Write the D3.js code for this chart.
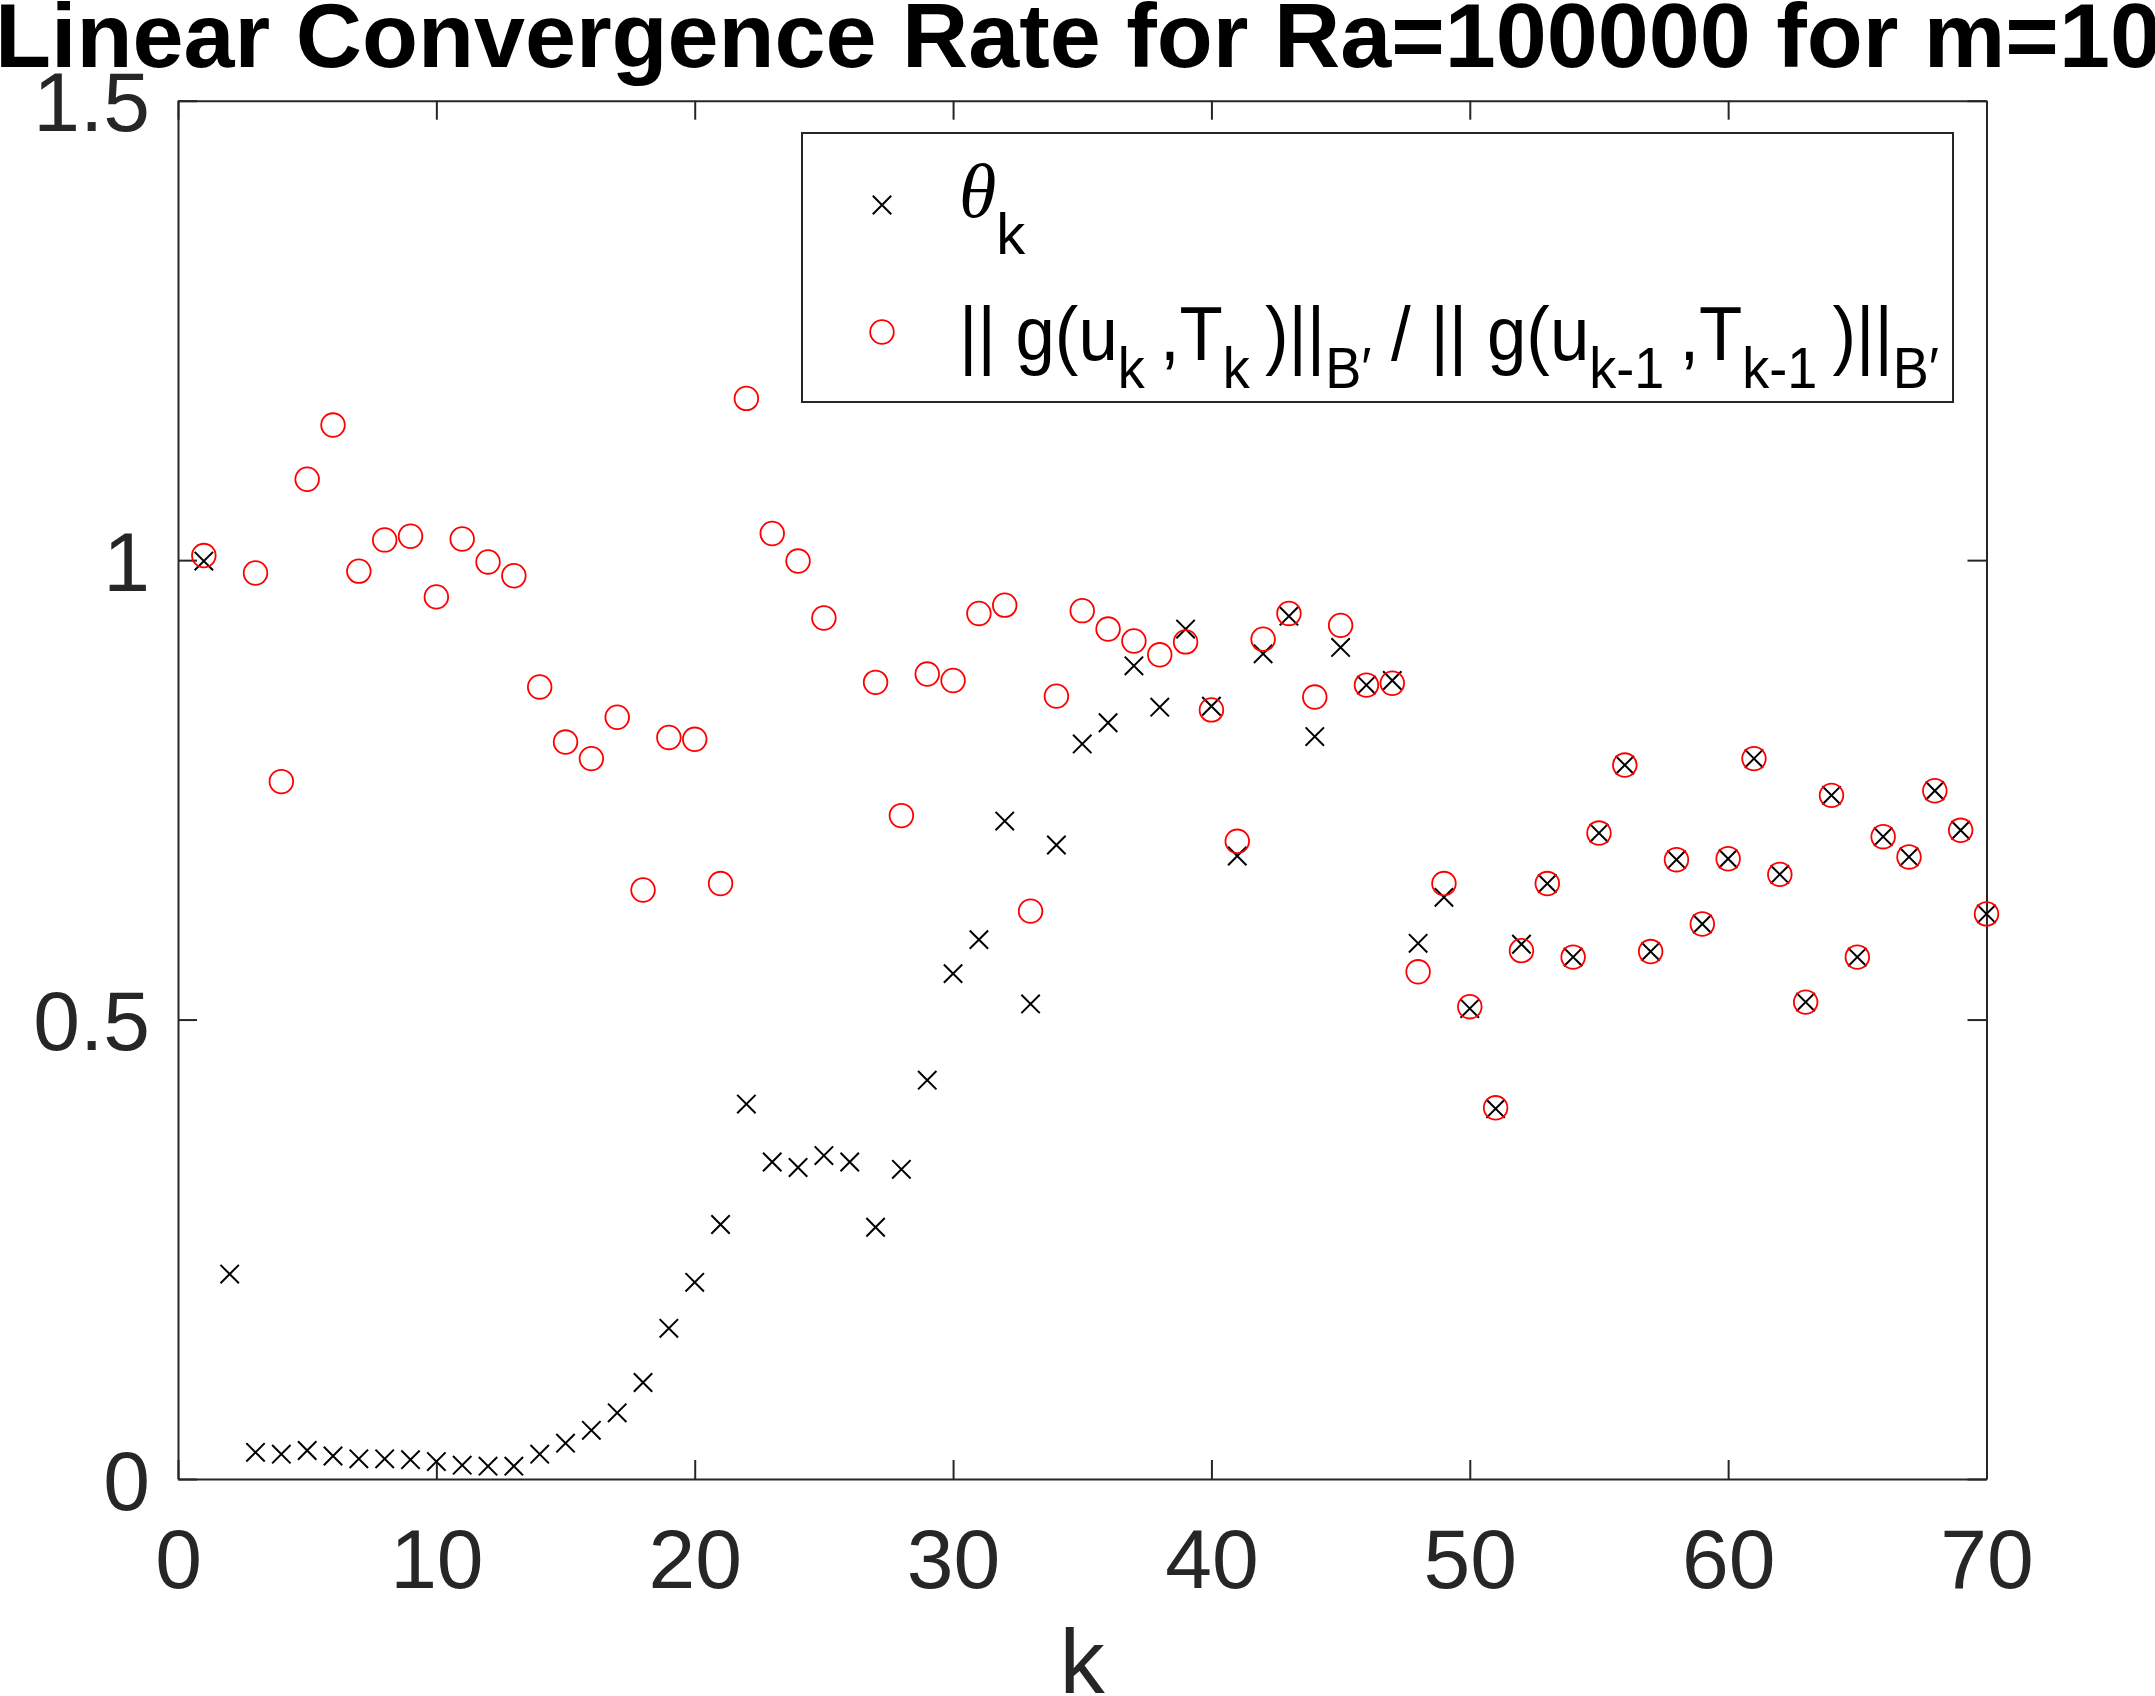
<!DOCTYPE html>
<html>
<head>
<meta charset="utf-8">
<script src="https://cdn.jsdelivr.net/npm/d3@7"></script>
<style>
  html, body { margin: 0; padding: 0; background: #ffffff; }
  svg { display: block; }
</style>
</head>
<body>
<svg id="chart" width="2155" height="1696"></svg>
<script>
// ---------------- data ----------------
const kValues = [1,2,3,4,5,6,7,8,9,10,11,12,13,14,15,16,17,18,19,20,
  21,22,23,24,25,26,27,28,29,30,31,32,33,34,35,36,37,38,39,40,
  41,42,43,44,45,46,47,48,49,50,51,52,53,54,55,56,57,58,59,60,
  61,62,63,64,65,66,67,68,69,70];

// theta_k (black crosses)
const thetaK = [0.999,0.223,0.029,0.027,0.031,0.025,0.022,0.022,0.021,0.019,
  0.015,0.014,0.014,0.027,0.039,0.053,0.072,0.105,0.164,0.214,
  0.277,0.408,0.345,0.339,0.352,0.345,0.274,0.337,0.434,0.550,
  0.587,0.716,0.517,0.690,0.800,0.823,0.885,0.840,0.925,0.841,
  0.678,0.898,0.939,0.808,0.905,0.864,0.869,0.583,0.633,0.512,
  0.403,0.582,0.648,0.568,0.703,0.777,0.574,0.674,0.604,0.675,
  0.784,0.658,0.519,0.744,0.568,0.699,0.677,0.749,0.706,0.615];

// ||g(u_k,T_k)|| / ||g(u_{k-1},T_{k-1})|| (red circles); null = not visible
const normRatio = [1.005,null,0.986,0.759,1.088,1.147,0.988,1.022,1.026,0.960,
  1.023,0.998,0.983,0.862,0.802,0.784,0.829,0.641,0.807,0.805,
  0.648,1.176,1.029,0.999,0.937,null,0.867,0.722,0.876,0.869,
  0.942,0.951,0.618,0.852,0.945,0.925,0.912,0.897,0.911,0.837,
  0.694,0.914,0.942,0.851,0.929,0.864,0.866,0.552,0.648,0.514,
  0.404,0.575,0.648,0.568,0.703,0.777,0.574,0.674,0.604,0.675,
  0.784,0.658,0.519,0.744,0.568,0.699,0.677,0.749,0.706,0.615];

const xTicks = [0,10,20,30,40,50,60,70];
const yTicks = [0,0.5,1,1.5];
const yTickLabels = ["0","0.5","1","1.5"];
const titleText = "Linear Convergence Rate for Ra=100000 for m=10";
const xLabelText = "k";

// ---------------- layout ----------------
const W = 2155, H = 1696;
const plot = {left: 178, right: 1986.5, top: 100.7, bottom: 1479};
const axisColor = "#262626";
const fontSans = "'Liberation Sans', Arial, Helvetica, sans-serif";
const tickFont = 84;
const tickLen = 19;

const svg = d3.select("#chart");
svg.append("rect").attr("width", W).attr("height", H).attr("fill", "#fff");

const x = d3.scaleLinear().domain([0, 70]).range([plot.left, plot.right]);
const y = d3.scaleLinear().domain([0, 1.5]).range([plot.bottom, plot.top]);

// ---------------- axes ----------------
function styleAxis(g, showText) {
  g.selectAll(".domain").attr("stroke", axisColor).attr("stroke-width", 2);
  g.selectAll(".tick line").attr("stroke", axisColor).attr("stroke-width", 2);
  g.selectAll(".tick text")
    .attr("fill", axisColor)
    .style("font-family", fontSans)
    .style("font-size", tickFont + "px");
  if (!showText) g.selectAll(".tick text").remove();
}

const gBottom = svg.append("g")
  .attr("transform", `translate(0,${plot.bottom})`)
  .call(d3.axisBottom(x).tickValues(xTicks).tickFormat(d => String(d))
    .tickSizeInner(-tickLen).tickSizeOuter(0).tickPadding(49.5));
styleAxis(gBottom, true);

const gTop = svg.append("g")
  .attr("transform", `translate(0,${plot.top})`)
  .call(d3.axisTop(x).tickValues(xTicks).tickFormat("")
    .tickSizeInner(-tickLen).tickSizeOuter(0));
styleAxis(gTop, false);

const gLeft = svg.append("g")
  .attr("transform", `translate(${plot.left},0)`)
  .call(d3.axisLeft(y).tickValues(yTicks).tickFormat((d, i) => yTickLabels[i])
    .tickSizeInner(-tickLen).tickSizeOuter(0).tickPadding(28));
styleAxis(gLeft, true);
gLeft.selectAll(".tick text").attr("dy", "0.36em");

const gRight = svg.append("g")
  .attr("transform", `translate(${plot.right},0)`)
  .call(d3.axisRight(y).tickValues(yTicks).tickFormat("")
    .tickSizeInner(-tickLen).tickSizeOuter(0));
styleAxis(gRight, false);

// ---------------- data marks ----------------
const marks = svg.append("g");
const crossHalf = 9.2;
const crossPath = `M${-crossHalf},${-crossHalf}L${crossHalf},${crossHalf}M${-crossHalf},${crossHalf}L${crossHalf},${-crossHalf}`;

const thetaData = kValues.map((k, i) => ({k, v: thetaK[i]})).filter(d => d.v != null);
const ratioData = kValues.map((k, i) => ({k, v: normRatio[i]})).filter(d => d.v != null);

marks.selectAll("path.cross").data(thetaData).join("path")
  .attr("class", "cross")
  .attr("transform", d => `translate(${x(d.k)},${y(d.v)})`)
  .attr("d", crossPath)
  .attr("stroke", "#000").attr("stroke-width", 2).attr("fill", "none");

marks.selectAll("circle.ratio").data(ratioData).join("circle")
  .attr("class", "ratio")
  .attr("cx", d => x(d.k)).attr("cy", d => y(d.v))
  .attr("r", 11.8)
  .attr("stroke", "#ff0000").attr("stroke-width", 1.8).attr("fill", "none");

// ---------------- title & labels ----------------
svg.append("text")
  .attr("x", 1078).attr("y", 67)
  .attr("text-anchor", "middle")
  .style("font-family", fontSans).style("font-weight", "bold").style("font-size", "91.7px")
  .attr("fill", "#000")
  .text(titleText);

svg.append("text")
  .attr("x", (plot.left + plot.right) / 2).attr("y", 1693)
  .attr("text-anchor", "middle")
  .style("font-family", fontSans).style("font-size", "90px")
  .attr("fill", axisColor)
  .text(xLabelText);

// ---------------- legend ----------------
const leg = {x: 802, y: 133, w: 1151, h: 269};
const lg = svg.append("g");
lg.append("rect").attr("x", leg.x).attr("y", leg.y).attr("width", leg.w).attr("height", leg.h)
  .attr("fill", "#fff").attr("stroke", axisColor).attr("stroke-width", 2);

const legMarkX = 882;
lg.append("path").attr("transform", `translate(${legMarkX},205)`).attr("d", crossPath)
  .attr("stroke", "#000").attr("stroke-width", 2).attr("fill", "none");
lg.append("circle").attr("cx", legMarkX).attr("cy", 332).attr("r", 11.8)
  .attr("stroke", "#ff0000").attr("stroke-width", 1.8).attr("fill", "none");

const legMain = 76, legSub = 58;
const t1 = lg.append("text").attr("x", 959).attr("y", 217)
  .style("font-family", fontSans).style("font-size", legMain + "px").attr("fill", "#000");
t1.append("tspan").text("θ").style("font-family", "'Liberation Serif', 'Times New Roman', serif").style("font-style", "italic");
t1.append("tspan").text("k").attr("dy", 37).style("font-size", legSub + "px");

const segs = [
  {t: "|| g(u", sub: false},
  {t: "k ", sub: true},
  {t: ",T", sub: false},
  {t: "k ", sub: true},
  {t: ")||", sub: false},
  {t: "B\u2032", sub: true},
  {t: " / || g(u", sub: false},
  {t: "k-1 ", sub: true},
  {t: ",T", sub: false},
  {t: "k-1 ", sub: true},
  {t: ")||", sub: false},
  {t: "B\u2032", sub: true}
];
const t2 = lg.append("text").attr("x", 959).attr("y", 360)
  .style("font-family", fontSans).style("font-size", legMain + "px")
  .style("white-space", "pre").attr("fill", "#000");
let prevSub = false;
const subShift = 28;
segs.forEach(s => {
  const ts = t2.append("tspan").text(s.t);
  if (s.sub) ts.style("font-size", legSub + "px");
  const dy = (s.sub ? subShift : 0) - (prevSub ? subShift : 0);
  if (dy !== 0) ts.attr("dy", dy);
  prevSub = s.sub;
});
const targetW = 980;
const w2 = t2.node().getComputedTextLength();
if (w2 > targetW) {
  t2.attr("textLength", targetW).attr("lengthAdjust", "spacingAndGlyphs");
}
</script>
</body>
</html>
